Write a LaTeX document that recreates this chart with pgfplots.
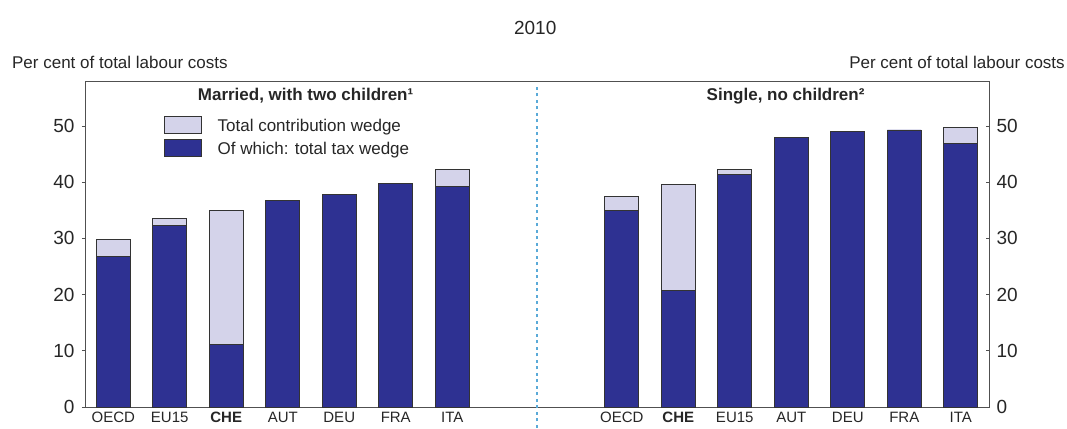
\documentclass[border=0pt]{standalone}
\usepackage{fontspec}
\setmainfont{Liberation Sans}
\usepackage{pgfplots}
\usepackage{pgfplotstable}
\pgfplotsset{compat=1.18}
\definecolor{darkbar}{HTML}{2E3192}
\definecolor{lightbar}{HTML}{D4D3EA}
\definecolor{edge}{HTML}{333333}
\definecolor{axisgray}{HTML}{505050}
\definecolor{divider}{HTML}{5AAAD8}
\pgfplotstableread{
x total tax
0 29.8 26.8
1 33.6 32.3
2 34.9 11.2
3 36.8 36.8
4 37.8 37.8
5 39.8 39.8
6 42.3 39.2
9 37.5 34.9
10 39.6 20.8
11 42.3 41.3
12 48.0 48.0
13 49.1 49.1
14 49.3 49.3
15 49.7 46.9
}\datatable
\begin{document}
\begin{tikzpicture}
\begin{axis}[
  scale only axis, width=904pt, height=326pt,
  xmin=-0.5, xmax=15.5, ymin=0, ymax=58,
  clip=false,
  axis line style={axisgray, line width=0.9pt},
  xtick={0,1,2,3,4,5,6,9,10,11,12,13,14,15},
  xticklabels={OECD,EU15,\textbf{CHE},AUT,DEU,FRA,ITA,OECD,\textbf{CHE},EU15,AUT,DEU,FRA,ITA},
  x tick label style={font=\fontsize{15}{15}\selectfont, text=black!85, inner sep=1pt, yshift=-1pt},
  major x tick style={draw=none},
  ytick={0,10,20,30,40,50},
  ytick pos=left,
  y tick label style={font=\fontsize{19}{19}\selectfont, text=black!85, xshift=-4pt},
  tick align=outside, major tick length=3pt,
  major tick style={axisgray, line width=0.8pt},
  /pgf/number format/assume math mode=true,
  legend style={draw=none, fill=none, at={(rel axis cs:0.087,0.893)}, anchor=north west,
    font=\fontsize{17}{17}\selectfont, text=black!85, row sep=5.5pt, inner sep=0pt,
    nodes={inner sep=0pt, text depth=0pt}},
  legend cell align=left,
  ybar, bar shift=0pt, bar width=0.6,
]
\addplot[fill=lightbar, draw=edge, line width=0.8pt,
  legend image code/.code={\draw[fill=lightbar, draw=edge, line width=0.8pt] (0pt,-8.5pt) rectangle (37pt,8.5pt); \path (53pt,0pt);}]
  table[x=x, y=total] {\datatable};
\addlegendentry{Total contribution wedge}
\addplot[fill=darkbar, draw=edge, line width=0.8pt,
  legend image code/.code={\draw[fill=darkbar, draw=edge, line width=0.8pt] (0pt,-8.5pt) rectangle (37pt,8.5pt); \path (53pt,0pt);}]
  table[x=x, y=tax] {\datatable};
\addlegendentry{Of which: total tax wedge}
\draw[divider, line width=1.3pt, dash pattern=on 3pt off 3.5pt] (axis cs:7.5,-3.7) -- (axis cs:7.5,57.5);
\node[font=\fontsize{17}{17}\selectfont\bfseries, text=black!85] at (rel axis cs:0.244,0.954) {Married, with two children¹};
\node[font=\fontsize{17}{17}\selectfont\bfseries, text=black!85] at (rel axis cs:0.775,0.954) {Single, no children²};
\node[font=\fontsize{17}{17}\selectfont, text=black!85, anchor=west, inner sep=0pt] at (rel axis cs:-0.0808,1.058) {Per cent of total labour costs};
\node[font=\fontsize{17}{17}\selectfont, text=black!85, anchor=east, inner sep=0pt] at (rel axis cs:1.084,1.058) {Per cent of total labour costs};
\node[font=\fontsize{19}{19}\selectfont, text=black!85] at (rel axis cs:0.498,1.163) {2010};
\end{axis}
\begin{axis}[
  scale only axis, width=904pt, height=326pt,
  xmin=-0.5, xmax=15.5, ymin=0, ymax=58,
  axis x line=none, axis y line*=right,
  axis line style={axisgray, line width=0.9pt},
  ytick={0,10,20,30,40,50},
  y tick label style={font=\fontsize{19}{19}\selectfont, text=black!85, xshift=4pt},
  tick align=inside, major tick length=3pt,
  major tick style={axisgray, line width=0.8pt},
  /pgf/number format/assume math mode=true,
]
\end{axis}
\pgfresetboundingbox
\path (current axis.south west) ++(-85pt,-21pt) rectangle ++(1067pt,428pt);
\end{tikzpicture}
\end{document}
